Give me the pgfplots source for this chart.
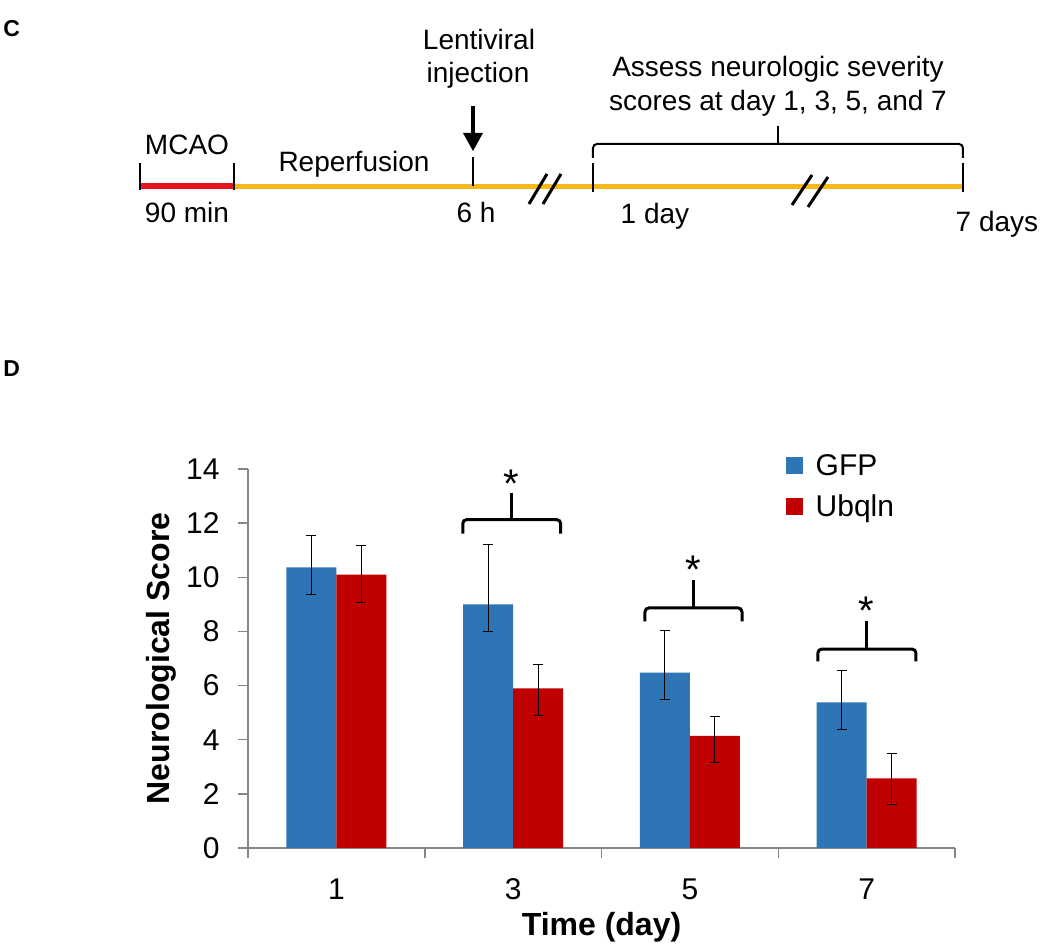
\documentclass[border=0pt]{standalone}
\usepackage{fontspec}
\setmainfont{Liberation Sans}
\usepackage{pgfplots}
\pgfplotsset{compat=1.18}

\definecolor{gfpblue}{RGB}{46,117,182}
\definecolor{ubqred}{RGB}{192,0,0}
\definecolor{mcaored}{RGB}{230,20,30}
\definecolor{reperf}{RGB}{245,185,25}
\definecolor{axgray}{RGB}{134,134,134}

\begin{document}
\begin{tikzpicture}
\path[use as bounding box] (0,0) rectangle (525bp,475.5bp);

% panel C: timeline, drawn in pixel units of the reference (y down)
\begin{scope}[shift={(0,475.5bp)}, x=0.5bp, y=-0.5bp]
\node[anchor=base west, inner sep=0pt, font=\fontsize{11.5bp}{13bp}\selectfont\bfseries] at (3,37) {C};
\node[anchor=base west, inner sep=0pt, font=\fontsize{11.5bp}{13bp}\selectfont\bfseries] at (3,377) {D};

\draw[reperf, line width=2.5bp] (234,186.5) -- (963,186.5);
\draw[mcaored, line width=3bp] (140,186) -- (234,186);
\foreach \x in {140,234} \draw[line width=1.3bp] (\x,163) -- (\x,190);
\draw[line width=1.3bp] (473,157) -- (473,186);
\foreach \x in {593,963} \draw[line width=1.3bp] (\x,163) -- (\x,192);
% injection arrow
\draw[line width=2bp] (473,106) -- (473,136);
\fill (463,133) -- (483,133) -- (473,151) -- cycle;
% breaks
\draw[line width=1.5bp] (529,204) -- (547,174) (543,204) -- (561,174);
\draw[line width=1.5bp] (792,205) -- (812,175) (808,207) -- (828,177);
% bracket
\draw[line width=1bp, rounded corners=2bp] (593,158) -- (593,144) -- (963,144) -- (963,158);
\draw[line width=1bp] (778,144) -- (778,126);

\begin{scope}[every node/.style={anchor=base, inner sep=0pt, font=\fontsize{14bp}{17bp}\selectfont}]
\node at (187,155) {MCAO};
\node at (354,172) {Reperfusion};
\node at (187,223) {90 min};
\node at (476,223) {6 h};
\node at (655,224) {1 day};
\node at (997,232) {7 days};
\node at (479,50) {Lentiviral};
\node at (478,83) {injection};
\node at (778,77) {Assess neurologic severity};
\node at (778,111) {scores at day 1, 3, 5, and 7};
\end{scope}
\end{scope}

% panel D: bar chart
\begin{axis}[
  at={(124bp,51.5bp)}, anchor=south west,
  scale only axis, width=353.5bp, height=189.5bp,
  ybar=0pt, bar width=25bp,
  xmin=-0.5, xmax=3.5, ymin=0, ymax=14,
  xtick={0,1,2,3}, xticklabels={1,3,5,7},
  minor xtick={-0.5,0.5,1.5,2.5,3.5},
  ytick={0,2,4,6,8,10,12,14},
  axis lines*=left,
  axis line style={axgray, line width=0.75bp},
  tick align=outside,
  major tick length=5bp, minor tick length=5bp,
  major x tick style={draw=none},
  minor x tick style={axgray, line width=0.75bp},
  y tick style={axgray, line width=0.75bp},
  /pgf/number format/assume math mode=true,
  tick label style={font=\fontsize{15bp}{18bp}\selectfont, black},
  yticklabel style={anchor=east, inner sep=0pt, xshift=-9bp},
  xticklabel style={anchor=north, inner sep=0pt, yshift=-10bp},
  xlabel={Time (day)}, ylabel={Neurological Score},
  label style={font=\fontsize{16bp}{19bp}\selectfont\bfseries},
  xlabel style={at={(axis description cs:0.5,-0.21)}, anchor=center},
  ylabel style={at={(axis description cs:-0.123,0.5)}, anchor=center},
  legend style={draw=none, fill=none, at={(axis description cs:0.76,1.05)}, anchor=north west,
    font=\fontsize{15bp}{18bp}\selectfont, row sep=4bp, inner sep=0pt,
    /tikz/every odd column/.append style={column sep=4.5bp}},
  legend cell align=left,
  legend image code/.code={\fill[#1] (0bp,-4bp) rectangle (8.5bp,4.5bp);},
  error bars/y dir=both, error bars/y explicit,
  error bars/error bar style={black, line width=0.5bp},
  error bars/error mark options={rotate=90, black, mark size=2.5bp, line width=0.5bp},
]
\addplot[fill=gfpblue, draw=none] coordinates {
  (0,10.37) += (0,1.18) -= (0,1.01)
  (1,9.00)  += (0,2.20) -= (0,1.00)
  (2,6.48)  += (0,1.54) -= (0,1.00)
  (3,5.38)  += (0,1.17) -= (0,1.00)
};
\addplot[fill=ubqred, draw=none] coordinates {
  (0,10.10) += (0,1.09) -= (0,1.03)
  (1,5.90)  += (0,0.86) -= (0,1.01)
  (2,4.14)  += (0,0.70) -= (0,1.00)
  (3,2.57)  += (0,0.91) -= (0,0.98)
};
\legend{GFP,Ubqln}

% significance brackets
\draw[line width=1.5bp, rounded corners=2bp] (axis cs:0.715,11.61) -- (axis cs:0.715,12.13) -- (axis cs:1.269,12.13) -- (axis cs:1.269,11.61);
\draw[line width=1.5bp] (axis cs:0.992,12.13) -- (axis cs:0.992,13.13);
\node[font=\fontsize{20bp}{20bp}\selectfont] at (axis cs:0.992,13.45) {*};
\draw[line width=1.5bp, rounded corners=2bp] (axis cs:1.746,8.37) -- (axis cs:1.746,8.87) -- (axis cs:2.295,8.87) -- (axis cs:2.295,8.37);
\draw[line width=1.5bp] (axis cs:2.02,8.87) -- (axis cs:2.02,9.91);
\node[font=\fontsize{20bp}{20bp}\selectfont] at (axis cs:2.02,10.27) {*};
\draw[line width=1.5bp, rounded corners=2bp] (axis cs:2.724,6.89) -- (axis cs:2.724,7.35) -- (axis cs:3.279,7.35) -- (axis cs:3.279,6.89);
\draw[line width=1.5bp] (axis cs:3.0,7.35) -- (axis cs:3.0,8.37);
\node[font=\fontsize{20bp}{20bp}\selectfont] at (axis cs:3.0,8.76) {*};
\end{axis}
\end{tikzpicture}
\end{document}
